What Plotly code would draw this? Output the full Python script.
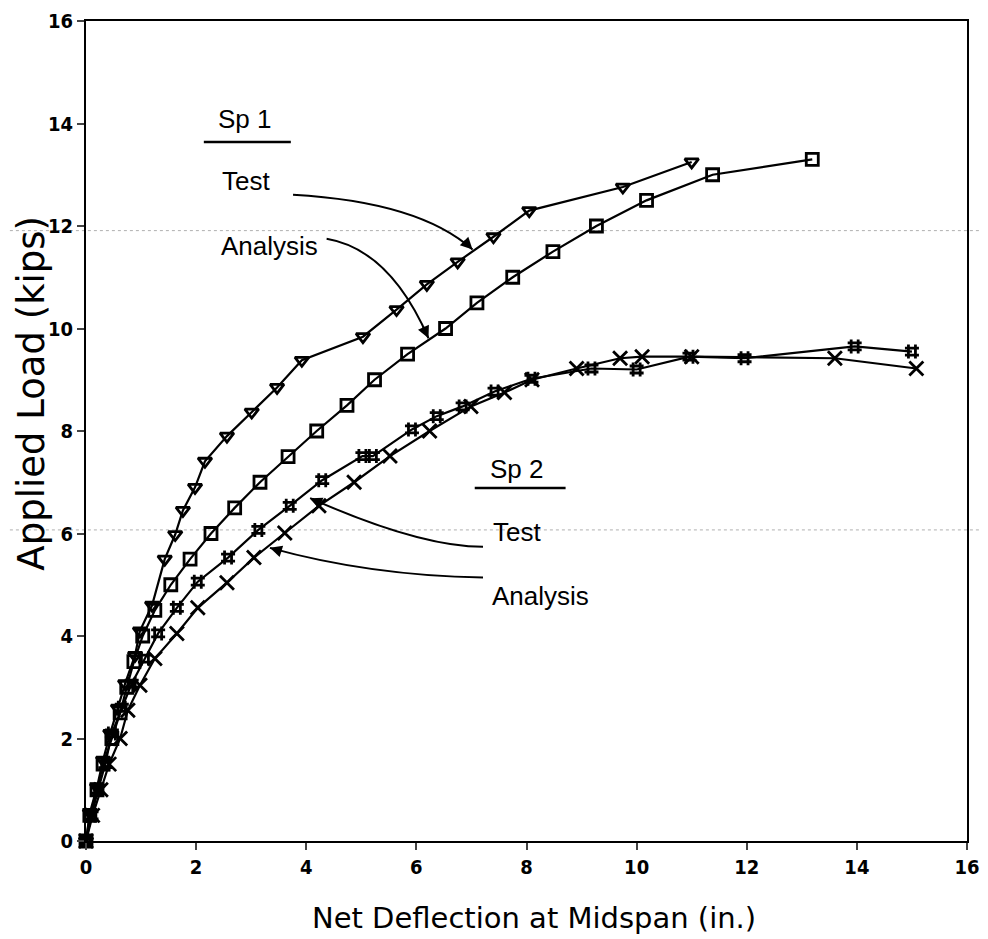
import plotly.graph_objects as go

# Sp 1 - test (triangles) and analysis (squares)
sp1_test_x = [0, 0.07, 0.2, 0.31, 0.44, 0.58, 0.71, 0.89, 0.98, 1.2, 1.43, 1.62, 1.76,
              1.98, 2.16, 2.56, 3.01, 3.47, 3.92, 5.03, 5.64, 6.19, 6.75, 7.4, 8.05, 9.75, 11.0]
sp1_test_y = [0, 0.55, 1.05, 1.58, 2.1, 2.59, 3.07, 3.62, 4.1, 4.6, 5.5, 5.98, 6.45,
              6.9, 7.41, 7.9, 8.37, 8.85, 9.38, 9.84, 10.37, 10.86, 11.3, 11.79, 12.3, 12.76, 13.25]

sp1_anal_x = [0, 0.07, 0.2, 0.31, 0.47, 0.62, 0.74, 0.87, 1.03, 1.25, 1.54, 1.89, 2.27, 2.70,
              3.16, 3.67, 4.19, 4.74, 5.24, 5.84, 6.53, 7.10, 7.75, 8.48, 9.27, 10.18, 11.38, 13.19]
sp1_anal_y = [0, 0.5, 1.0, 1.5, 2.0, 2.5, 3.0, 3.5, 4.0, 4.5, 5.0, 5.5, 6.0, 6.5,
              7.0, 7.5, 8.0, 8.5, 9.0, 9.5, 10.0, 10.5, 11.0, 11.5, 12.0, 12.5, 13.0, 13.3]

# Sp 2 - test (hash) and analysis (x)
sp2_test_x = [0, 0.1, 0.22, 0.35, 0.47, 0.65, 0.83, 1.07, 1.31, 1.65, 2.03, 2.58, 3.13, 3.70,
              4.29, 5.02, 5.21, 5.92, 6.37, 6.84, 7.42, 8.09, 9.18, 10.0, 10.96, 11.96, 13.96, 15.0]
sp2_test_y = [0, 0.5, 1.0, 1.5, 2.1, 2.6, 3.07, 3.56, 4.05, 4.55, 5.06, 5.53, 6.07, 6.54,
              7.04, 7.51, 7.51, 8.03, 8.29, 8.48, 8.77, 9.02, 9.22, 9.2, 9.45, 9.42, 9.65, 9.55]

sp2_anal_x = [0, 0.12, 0.27, 0.42, 0.62, 0.76, 0.98, 1.25, 1.65, 2.03, 2.56, 3.05, 3.61,
              4.23, 4.87, 5.52, 6.24, 6.99, 7.6, 8.1, 8.91, 9.7, 10.1, 11.0, 13.6, 15.08]
sp2_anal_y = [0, 0.5, 1.0, 1.5, 2.0, 2.55, 3.04, 3.56, 4.05, 4.55, 5.04, 5.53, 6.01,
              6.54, 7.0, 7.51, 8.0, 8.48, 8.75, 9.0, 9.22, 9.42, 9.45, 9.45, 9.42, 9.22]

tick_vals = [0, 2, 4, 6, 8, 10, 12, 14, 16]

LINE = dict(color="black", width=2.2)
TICKFONT = dict(family="DejaVu Sans Condensed, Liberation Sans Narrow, DejaVu Sans, sans-serif",
                size=20, color="black", weight="bold")
XTITLEFONT = dict(family="DejaVu Sans, sans-serif", size=29, color="black")
YTITLEFONT = dict(family="DejaVu Sans, sans-serif", size=37, color="black")
NOTEFONT = dict(family="Liberation Sans, Arial, sans-serif", size=26, color="black")

fig = go.Figure()

series = [
    (sp1_test_x, sp1_test_y, "triangle-down-open", 12, "Sp 1 Test"),
    (sp1_anal_x, sp1_anal_y, "square-open", 12, "Sp 1 Analysis"),
    (sp2_test_x, sp2_test_y, "hash-open", 14, "Sp 2 Test"),
    (sp2_anal_x, sp2_anal_y, "x-thin-open", 14, "Sp 2 Analysis"),
]
for xs, ys, sym, size, name in series:
    fig.add_trace(go.Scatter(
        x=xs, y=ys, mode="lines+markers", name=name,
        line=LINE,
        marker=dict(symbol=sym, size=size, color="black", line=dict(color="black", width=2.8)),
        showlegend=False, cliponaxis=False,
    ))

# faint scanner lines
for yv in [11.91, 6.07]:
    fig.add_shape(type="line", xref="paper", yref="y", x0=-0.1, x1=1.03, y0=yv, y1=yv,
                  line=dict(color="#b0b0b0", width=1, dash="dot"), layer="below")

# labels
labels = [
    ("Sp 1", 2.89, 14.09), ("Test", 2.90, 12.88), ("Analysis", 3.34, 11.61),
    ("Sp 2", 7.82, 7.26), ("Test", 7.82, 6.03), ("Analysis", 8.26, 4.79),
]
for txt, lx, ly in labels:
    fig.add_annotation(x=lx, y=ly, text=txt, showarrow=False, font=NOTEFONT,
                       xanchor="center", yanchor="middle")

for x0, x1, yv in [(2.14, 3.72, 13.64), (7.06, 8.71, 6.89)]:
    fig.add_shape(type="line", x0=x0, x1=x1, y0=yv, y1=yv, line=dict(color="black", width=2.5))

# curved leader arrows: start, control, tip, arrowhead offset (px)
leaders = [
    ((3.76, 12.61), (6.06, 12.47), (7.02, 11.54), (-10, -10)),
    ((4.37, 11.75), (5.52, 11.54), (6.22, 9.81), (-6, -13)),
    ((7.21, 5.74), (6.06, 5.74), (4.07, 6.69), (13, 6)),
    ((7.21, 5.14), (5.15, 5.18), (3.34, 5.72), (13, 4)),
]
for (sx, sy), (cx, cy), (tx, ty), (ax, ay) in leaders:
    fig.add_shape(type="path", path=f"M {sx},{sy} Q {cx},{cy} {tx},{ty}",
                  line=dict(color="black", width=2))
    fig.add_annotation(x=tx, y=ty, ax=ax, ay=ay, text="", showarrow=True,
                       arrowhead=2, arrowsize=1.2, arrowwidth=2, arrowcolor="black")

# axis titles
fig.add_annotation(xref="paper", yref="paper", x=0.509, y=-0.094, text="Net Deflection at Midspan (in.)",
                   showarrow=False, font=XTITLEFONT, xanchor="center", yanchor="middle")
fig.add_annotation(xref="paper", yref="paper", x=-0.062, y=0.546, text="Applied Load (kips)",
                   showarrow=False, font=YTITLEFONT, textangle=-90, xanchor="center", yanchor="middle")

axis_style = dict(
    range=[0, 16], tickvals=tick_vals, ticks="outside", ticklen=7, tickwidth=2,
    showline=True, linecolor="black", linewidth=2, mirror=True, showgrid=False, zeroline=False,
    tickfont=TICKFONT, automargin=False, ticklabeloverflow="allow",
)
fig.update_xaxes(**axis_style)
fig.update_yaxes(**axis_style)

# page body has an 8px margin, so the figure is shifted by it
fig.update_layout(
    width=980, height=931,
    margin=dict(l=78, r=21, t=13, b=98),
    paper_bgcolor="white", plot_bgcolor="white",
)

fig.write_html("out.html")
